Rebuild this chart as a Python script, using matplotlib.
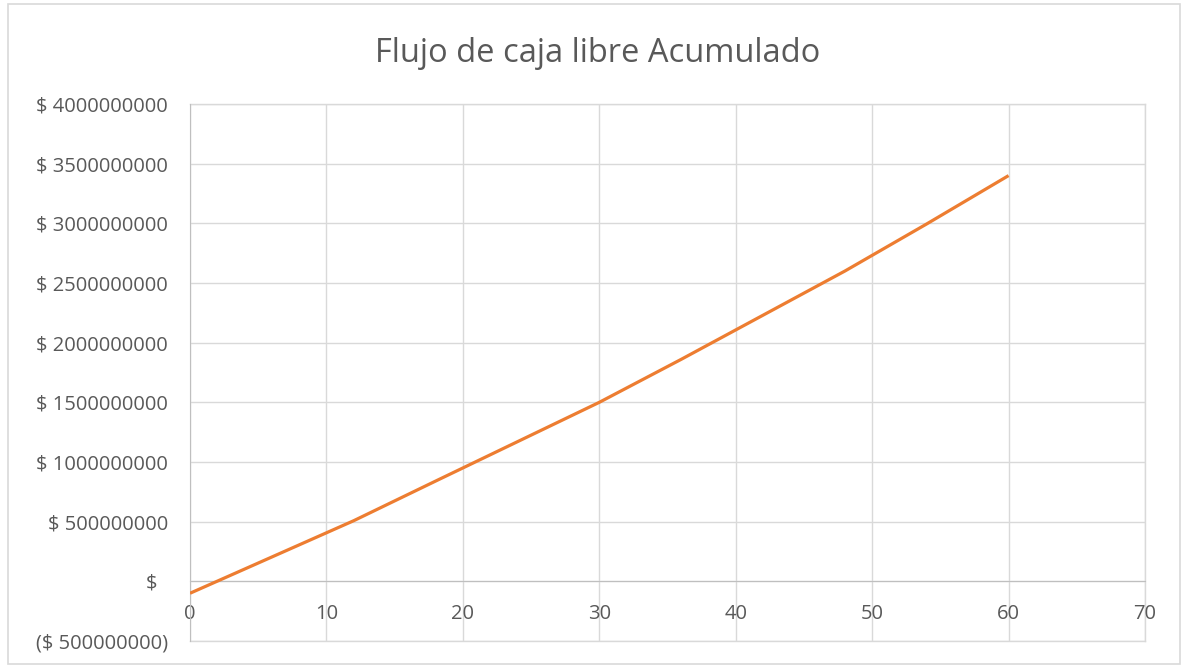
import matplotlib

matplotlib.use("Agg")
import matplotlib.pyplot as plt
from matplotlib.patches import Rectangle
from matplotlib.ticker import FuncFormatter, MultipleLocator

plt.rcParams["font.family"] = ["Open Sans", "DejaVu Sans"]

# Months and cumulative free cash flow
months = [0, 6, 12, 18, 24, 30, 36, 42, 48, 54, 60]
flujo_acumulado = [-1.0e8, 2.04e8, 5.08e8, 8.4e8, 1.17e9, 1.50e9,
                   1.86e9, 2.23e9, 2.60e9, 2.995e9, 3.40e9]

title = "Flujo de caja libre Acumulado"
x_ticks = [0, 10, 20, 30, 40, 50, 60, 70]
y_min, y_max, y_step = -5e8, 4e9, 5e8

TEXT = "#595959"
GRID = "#d9d9d9"
AXIS = "#bfbfbf"
ORANGE = "#ed7d31"


def money(v, _pos=None):
    if abs(v) < 1:
        return "$  "  # accounting format leaves room for the hidden dash
    if v < 0:
        return f"($ {abs(v):.0f})"
    return f"$ {v:.0f}"


fig = plt.figure(figsize=(11.88, 6.68), dpi=100)
ax = fig.add_axes([190 / 1188, 1 - 641 / 668, (1145 - 190) / 1188, (641 - 104) / 668])

ax.plot(months, flujo_acumulado, color=ORANGE, lw=2.3, solid_capstyle="butt", zorder=3)

ax.set_xlim(x_ticks[0], x_ticks[-1])
ax.set_ylim(y_min, y_max)
ax.set_xticks(x_ticks)
ax.yaxis.set_major_locator(MultipleLocator(y_step))
ax.yaxis.set_major_formatter(FuncFormatter(money))

ax.grid(True, color=GRID, lw=1.0, zorder=0)
# edge gridlines (Excel draws them on the plot-area border)
ax.axhline(y_min, color=GRID, lw=1.0, clip_on=False, zorder=0)
ax.axhline(y_max, color=GRID, lw=1.0, clip_on=False, zorder=0)
ax.axvline(x_ticks[-1], color=GRID, lw=1.0, clip_on=False, zorder=0)

for side in ("top", "right"):
    ax.spines[side].set_visible(False)
ax.spines["left"].set_color(AXIS)
ax.spines["bottom"].set_color(AXIS)
ax.spines["bottom"].set_position(("data", 0))
ax.spines["left"].set_zorder(2)

ax.tick_params(axis="both", length=0, labelsize=14.5, colors=TEXT)
ax.tick_params(axis="y", pad=16)
ax.tick_params(axis="x", pad=16)
for lbl in ax.get_yticklabels():
    lbl.set_horizontalalignment("right")

fig.text(0.503, 1 - 53 / 668, title, ha="center", va="center",
         fontsize=23.5, color=TEXT)

fig.patches.append(Rectangle((8 / 1188, 4 / 668), 1172 / 1188, 660 / 668,
                             transform=fig.transFigure, fill=False,
                             edgecolor=GRID, lw=1.2))

fig.savefig("out.png", dpi=100)
